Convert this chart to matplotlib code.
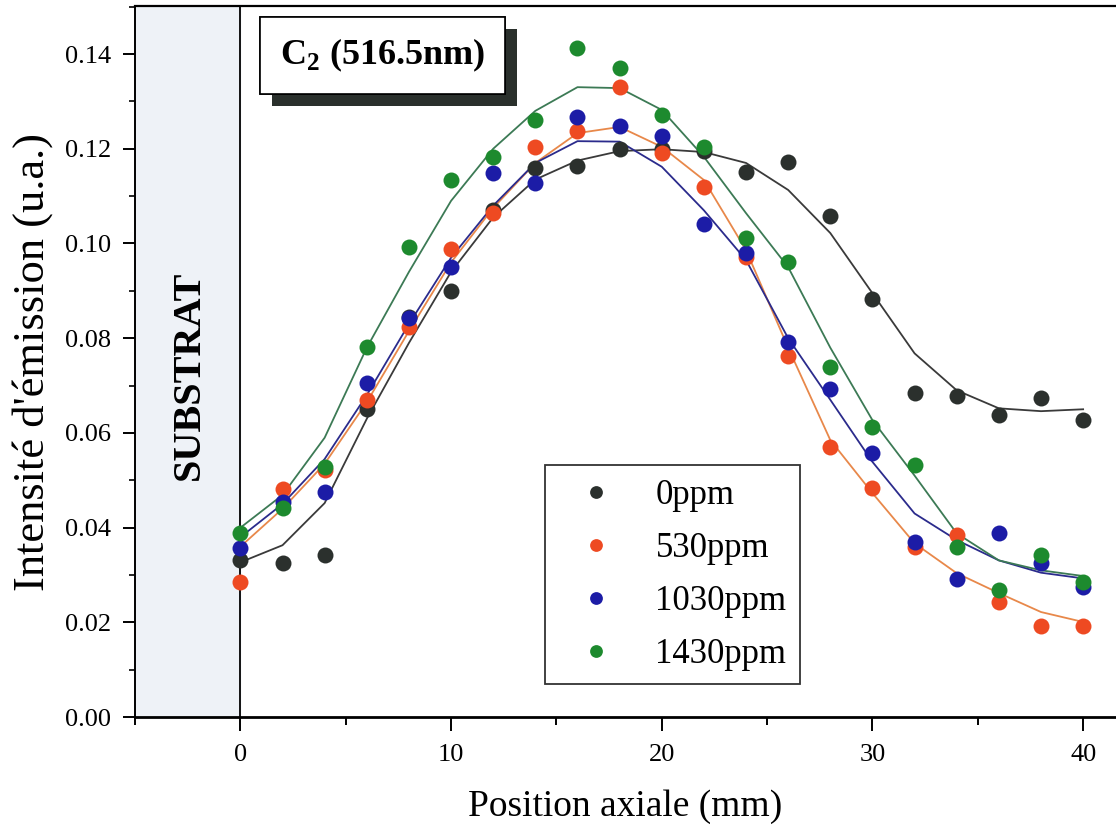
import numpy as np
import matplotlib
matplotlib.use('Agg')
import matplotlib.pyplot as plt
import matplotlib.patheffects as pe
from matplotlib.ticker import MultipleLocator

plt.rcParams['font.family'] = ['Liberation Serif', 'DejaVu Serif']
plt.rcParams['mathtext.fontset'] = 'custom'
plt.rcParams['mathtext.rm'] = 'Liberation Serif'
plt.rcParams['mathtext.bf'] = 'Liberation Serif:bold'

# Data
position = [0, 2, 4, 6, 8, 10, 12, 14, 16, 18, 20, 22, 24, 26, 28, 30, 32, 34, 36, 38, 40]

pts_0 = [0.0332, 0.0325, 0.0342, 0.0650, 0.0845, 0.0900, 0.1070, 0.1160, 0.1163, 0.1199, 0.1200,
         0.1195, 0.1151, 0.1172, 0.1058, 0.0883, 0.0684, 0.0678, 0.0638, 0.0674, 0.0627]
pts_530 = [0.0285, 0.0481, 0.0522, 0.0669, 0.0823, 0.0988, 0.1064, 0.1204, 0.1237, 0.1330, 0.1191,
           0.1119, 0.0971, 0.0762, 0.0570, 0.0483, 0.0359, 0.0384, 0.0243, 0.0192, 0.0192]
pts_1030 = [0.0357, 0.0454, 0.0475, 0.0705, 0.0842, 0.0950, 0.1149, 0.1128, 0.1266, 0.1248, 0.1227,
            0.1041, 0.0980, 0.0792, 0.0693, 0.0557, 0.0370, 0.0291, 0.0388, 0.0325, 0.0275]
pts_1430 = [0.0388, 0.0441, 0.0528, 0.0781, 0.0992, 0.1134, 0.1182, 0.1260, 0.1413, 0.1370, 0.1271,
            0.1204, 0.1011, 0.0961, 0.0739, 0.0612, 0.0532, 0.0359, 0.0268, 0.0342, 0.0285]

fit_0 = [0.0327, 0.0363, 0.0452, 0.0630, 0.0790, 0.0940, 0.1055, 0.1135, 0.1175, 0.1195, 0.1199,
         0.1193, 0.1170, 0.1113, 0.1022, 0.0895, 0.0768, 0.0690, 0.0652, 0.0646, 0.0650]
fit_530 = [0.0360, 0.0440, 0.0535, 0.0665, 0.0815, 0.0960, 0.1075, 0.1170, 0.1233, 0.1246, 0.1204,
           0.1134, 0.0986, 0.0780, 0.0585, 0.0473, 0.0367, 0.0304, 0.0262, 0.0222, 0.0201]
fit_1030 = [0.0380, 0.0450, 0.0545, 0.0680, 0.0830, 0.0970, 0.1080, 0.1170, 0.1216, 0.1215, 0.1162,
            0.1070, 0.0965, 0.0800, 0.0670, 0.0539, 0.0430, 0.0374, 0.0331, 0.0305, 0.0293]
fit_1430 = [0.0400, 0.0469, 0.0590, 0.0780, 0.0940, 0.1090, 0.1200, 0.1280, 0.1330, 0.1328, 0.1282,
            0.1183, 0.1064, 0.0950, 0.0780, 0.0627, 0.0510, 0.0388, 0.0331, 0.0310, 0.0298]

labels = ['0ppm', '530ppm', '1030ppm', '1430ppm']
point_colors = ['#2b302d', '#ee4a22', '#1c1ca6', '#1d8a2e']
line_colors = ['#3a3a3a', '#e8884a', '#2b2b8c', '#3c7a55']

fig = plt.figure(figsize=(11.16, 8.32), dpi=100)
ax = fig.add_axes([0.121, 0.138, 0.879, 0.8546])

# substrate zone
ax.axvspan(-5, 0, color='#eef2f7', zorder=0)
ax.axvline(0, color='black', lw=1.3, zorder=1)
ax.text(-2.4, 0.0722, 'SUBSTRAT', rotation=90, ha='center', va='center',
        fontsize=29, fontweight='bold')

series = [(pts_0, fit_0), (pts_530, fit_530), (pts_1030, fit_1030), (pts_1430, fit_1430)]
for i, (pts, fit) in enumerate(series):
    ax.plot(position, fit, color=line_colors[i], lw=1.3, zorder=2)
for i, (pts, fit) in enumerate(series):
    ax.plot(position, pts, 'o', color=point_colors[i], markersize=11.5,
            markeredgewidth=0, label=labels[i], zorder=3 + i)

ax.set_xlim(-5, 41.56)
ax.set_ylim(0, 0.1501)
ax.xaxis.set_major_locator(MultipleLocator(10))
ax.xaxis.set_minor_locator(MultipleLocator(5))
ax.yaxis.set_major_locator(MultipleLocator(0.02))
ax.yaxis.set_minor_locator(MultipleLocator(0.01))
ax.yaxis.set_major_formatter(plt.FuncFormatter(lambda v, p: f'{v:.2f}'))
ax.tick_params(axis='both', which='major', direction='out', labelsize=19, width=1.4)
ax.tick_params(axis='x', which='major', length=10, pad=9)
ax.tick_params(axis='x', which='minor', length=6, width=1.4)
ax.tick_params(axis='y', which='major', length=9, pad=8)
ax.tick_params(axis='y', which='minor', length=4, width=1.2)
ax.spines['right'].set_visible(False)
ax.spines['bottom'].set_linewidth(2)
ax.spines['left'].set_linewidth(1.4)
ax.spines['top'].set_linewidth(1.6)

ax.set_xlabel('Position axiale (mm)', fontsize=27, labelpad=17)
ax.set_ylabel("Intensité d'émission (u.a.)", fontsize=32, labelpad=9)

# title box with shadow
t = ax.text(6.76, 0.1397, r'C$_\mathbf{2}$ (516.5nm)', fontsize=26, fontweight='bold',
            ha='center', va='center',
            bbox=dict(boxstyle='square,pad=0.55', fc='white', ec='black', lw=1.2))
t.get_bbox_patch().set_path_effects([
    pe.withSimplePatchShadow(offset=(8.6, -8.6), shadow_rgbFace='#2a302c', alpha=1.0),
    pe.Normal()])

leg = ax.legend(loc='upper left', bbox_to_anchor=(0.418, 0.354), borderaxespad=0,
                fontsize=25, frameon=True, fancybox=False, edgecolor='black',
                handletextpad=0.6, labelspacing=0.58, borderpad=0.38, handlelength=2.2,
                markerscale=0.8)
leg.get_frame().set_linewidth(1.3)

fig.savefig('out.png', dpi=100)
